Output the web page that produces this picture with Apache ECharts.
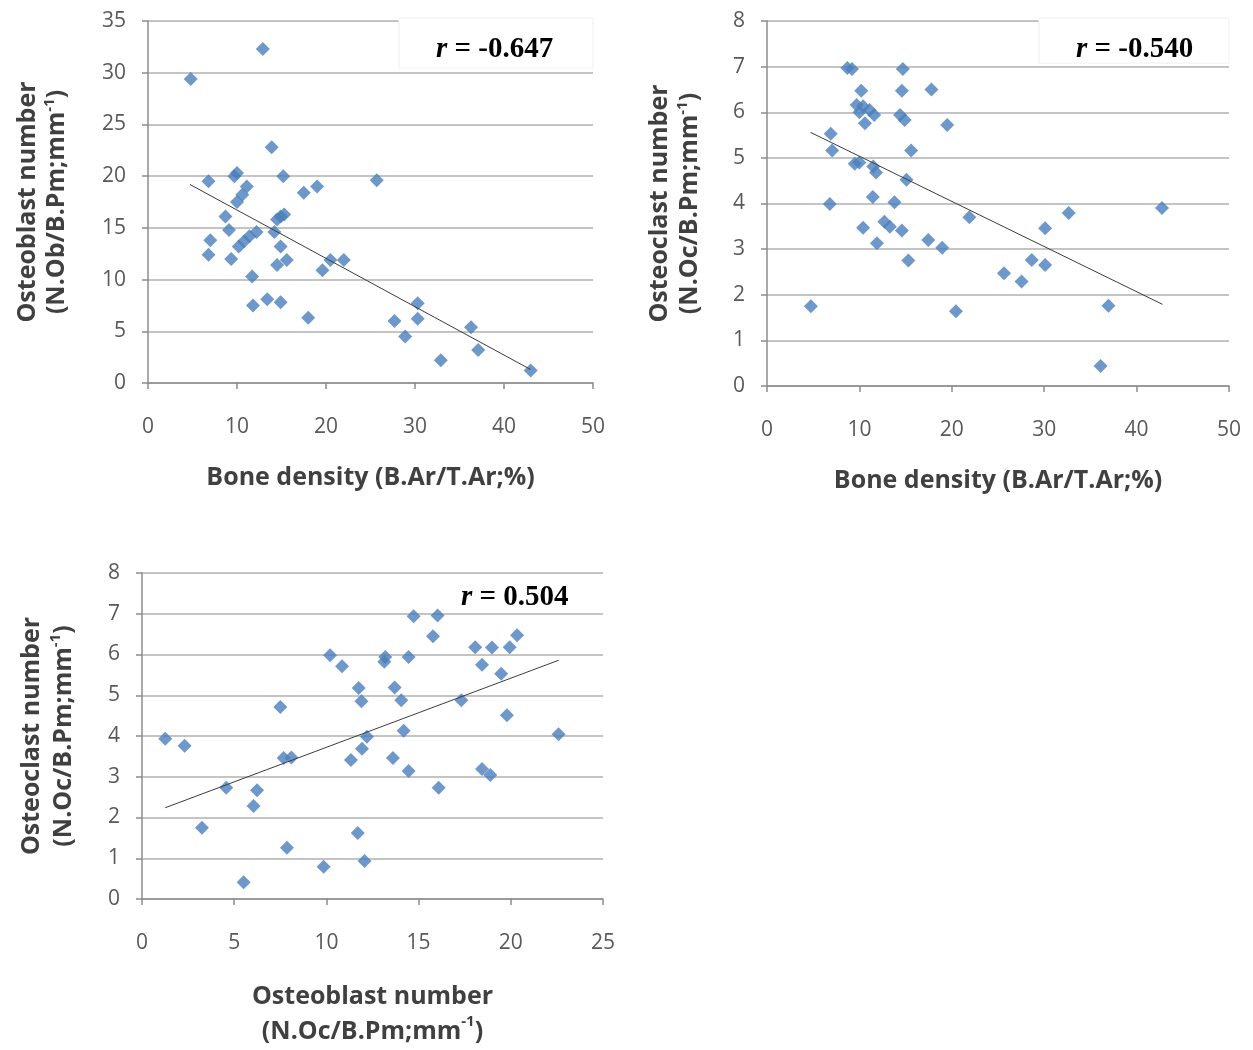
<!DOCTYPE html>
<html><head><meta charset="utf-8">
<script src="https://cdn.jsdelivr.net/npm/echarts@6/dist/echarts.min.js"></script>
<style>html,body{margin:0;padding:0;background:#fff}#c{width:1253px;height:1050px}</style>
</head><body><div id="c"></div>
<script>
// Panel 1: Bone density vs Osteoblast number
const p1X = [4.8,12.9,13.9,6.8,10.0,9.7,15.2,17.5,19.0,25.7,11.1,10.6,10.0,8.7,9.1,14.9,15.3,14.5,7.0,6.8,10.2,10.8,11.4,12.2,9.35,14.2,14.9,14.5,15.6,11.7,19.6,20.5,22.0,11.8,13.4,14.9,18.0,30.3,30.3,27.7,28.9,32.9,36.3,37.1,43.0];
const p1Y = [29.4,32.3,22.8,19.5,20.3,20.0,20.0,18.4,19.0,19.6,19.0,18.2,17.5,16.1,14.8,16.1,16.3,15.8,13.8,12.4,13.2,13.7,14.2,14.6,12.0,14.6,13.2,11.4,11.9,10.3,10.9,11.9,11.9,7.5,8.1,7.8,6.3,7.7,6.2,6.0,4.5,2.2,5.4,3.2,1.2];
const p1TrendX = [4.7,43.0];
const p1TrendY = [19.2,1.3];
const p1R = '-0.647';

// Panel 2: Bone density vs Osteoclast number
const p2X = [8.7,9.2,14.7,10.2,14.6,17.8,9.7,10.4,11.1,11.6,10.6,10.0,14.4,14.9,19.5,6.9,7.05,15.6,9.5,10.0,11.5,11.8,15.1,6.8,11.45,13.8,21.9,10.4,12.7,13.3,14.6,11.9,17.45,18.96,15.3,4.75,20.45,42.75,32.65,30.1,28.65,30.1,25.65,27.55,36.95,36.1];
const p2Y = [6.97,6.95,6.95,6.47,6.47,6.5,6.16,6.13,6.05,5.94,5.76,6.0,5.94,5.83,5.72,5.53,5.16,5.16,4.87,4.9,4.81,4.68,4.52,3.99,4.14,4.03,3.70,3.47,3.6,3.49,3.41,3.13,3.2,3.03,2.75,1.75,1.64,3.9,3.79,3.46,2.76,2.65,2.47,2.29,1.76,0.44];
const p2TrendX = [4.7,42.8];
const p2TrendY = [5.56,1.79];
const p2R = '-0.540';

// Panel 3: Osteoblast number vs Osteoclast number
const p3X = [1.26,2.31,3.25,4.57,5.51,6.05,6.24,7.5,7.68,8.1,7.86,9.85,10.2,10.85,11.75,11.9,11.33,11.93,12.2,11.7,12.07,13.19,13.14,14.46,14.73,16.03,15.78,18.07,18.98,19.94,20.34,18.44,19.48,13.7,14.06,17.32,19.79,14.19,22.59,13.61,14.46,18.44,18.89,16.09];
const p3Y = [3.93,3.76,1.75,2.73,0.41,2.28,2.67,4.71,3.46,3.47,1.26,0.79,5.98,5.71,5.18,4.85,3.41,3.69,3.98,1.62,0.93,5.94,5.82,5.94,6.94,6.96,6.45,6.18,6.17,6.18,6.47,5.75,5.53,5.19,4.88,4.88,4.51,4.13,4.04,3.46,3.14,3.19,3.04,2.73];
const p3TrendX = [1.26,22.6];
const p3TrendY = [2.24,5.86];
const p3R = '0.504';

const xName1 = 'Bone density (B.Ar/T.Ar;%)';
const yName1 = 'Osteoblast number\n(N.Ob/B.Pm;mm{sup|-1})';
const xName2 = 'Bone density (B.Ar/T.Ar;%)';
const yName2 = 'Osteoclast number\n(N.Oc/B.Pm;mm{sup|-1})';
const xName3 = 'Osteoblast number\n(N.Oc/B.Pm;mm{sup|-1})';
const yName3 = 'Osteoclast number\n(N.Oc/B.Pm;mm{sup|-1})';

const zip = (a, b) => a.map((v, i) => [v, b[i]]);
const SANS = 'Open Sans';
function nameStyle(lh) {
  return {
    fontFamily: SANS, fontWeight: 'bold', fontSize: 25, color: '#404040', lineHeight: lh,
    rich: { sup: { fontFamily: SANS, fontWeight: 'bold', fontSize: 15, color: '#404040', verticalAlign: 'top', lineHeight: lh, padding: [0,0,12,0] } }
  };
}
const labelStyle = { fontFamily: SANS, fontSize: 21, color: '#595959' };
const axLine = { show: true, lineStyle: { color: '#8c8c8c', width: 1.5 } };
const axTick = { show: true, inside: false, length: 6, lineStyle: { color: '#8c8c8c', width: 1.5 } };
const split = { show: true, lineStyle: { color: '#c4c4c4', width: 2 } };

function xAx(i, max, interval, name, gap, lh) {
  return { type: 'value', gridIndex: i, min: 0, max: max, interval: interval,
    name: name, nameLocation: 'middle', nameGap: gap, nameTextStyle: nameStyle(lh),
    axisLine: axLine, axisTick: axTick, splitLine: { show: false },
    axisLabel: Object.assign({ margin: 34 }, labelStyle) };
}
function yAx(i, max, interval, name, gap, lh) {
  return { type: 'value', gridIndex: i, min: 0, max: max, interval: interval,
    name: name, nameLocation: 'middle', nameGap: gap, nameRotate: 90, nameTextStyle: nameStyle(lh),
    axisLine: axLine, axisTick: axTick, splitLine: split,
    axisLabel: Object.assign({ margin: 22 }, labelStyle) };
}
function scatter(i, xs, ys) {
  return { type: 'scatter', xAxisIndex: i, yAxisIndex: i, data: zip(xs, ys),
    symbol: 'diamond', symbolSize: 14, itemStyle: { color: '#4a7ebb' }, z: 3 };
}
function trend(i, xs, ys) {
  return { type: 'line', xAxisIndex: i, yAxisIndex: i, data: zip(xs, ys),
    symbol: 'none', lineStyle: { color: '#3c3c3c', width: 1 }, z: 4, silent: true };
}
function rText(left, top, val) {
  return { type: 'text', left: left, top: top, z: 10,
    style: { text: '{i|r}{n| = ' + val + '}',
      rich: {
        i: { fontFamily: 'Liberation Serif', fontStyle: 'italic', fontWeight: 'bold', fontSize: 29, fill: '#000' },
        n: { fontFamily: 'Liberation Serif', fontWeight: 'bold', fontSize: 29, fill: '#000' }
      } } };
}

const chart = echarts.init(document.getElementById('c'), null, { renderer: 'canvas' });
chart.setOption({
  backgroundColor: '#fff',
  animation: false,
  grid: [
    { left: 148, top: 21, width: 445, height: 362 },
    { left: 767, top: 21, width: 462, height: 365 },
    { left: 142, top: 573, width: 461, height: 326 }
  ],
  xAxis: [ xAx(0, 50, 10, xName1, 80, 30), xAx(1, 50, 10, xName2, 80, 30), xAx(2, 25, 5, xName3, 80, 35) ],
  yAxis: [ yAx(0, 35, 5, yName1, 77, 29), yAx(1, 8, 1, yName2, 62, 30), yAx(2, 8, 1, yName3, 62, 32) ],
  series: [
    scatter(0, p1X, p1Y), trend(0, p1TrendX, p1TrendY),
    scatter(1, p2X, p2Y), trend(1, p2TrendX, p2TrendY),
    scatter(2, p3X, p3Y), trend(2, p3TrendX, p3TrendY)
  ],
  graphic: [
    { type: 'rect', shape: { x: 399, y: 18, width: 194, height: 50 }, style: { fill: '#fff', stroke: '#f0f0f0', lineWidth: 1 }, z: 5 },
    { type: 'rect', shape: { x: 1039, y: 18, width: 190, height: 45 }, style: { fill: '#fff', stroke: '#f0f0f0', lineWidth: 1 }, z: 5 },
    rText(436, 35, p1R),
    rText(1076, 35, p2R),
    rText(461, 583, p3R)
  ]
});
</script>
</body></html>
